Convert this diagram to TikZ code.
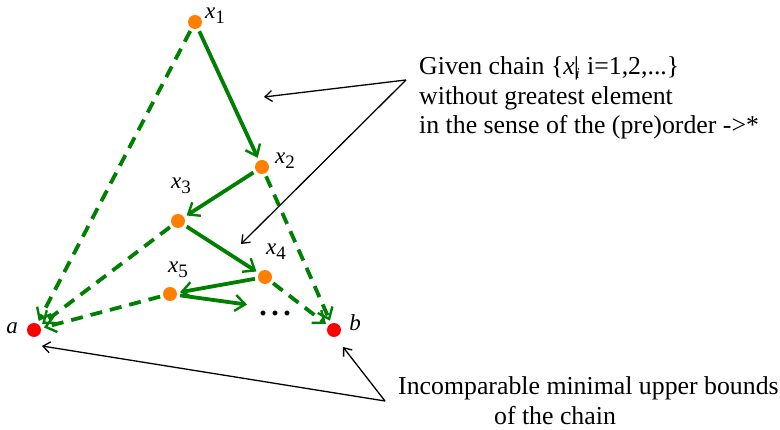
\documentclass[tikz,border=0pt]{standalone}
\usepackage{fontspec}
\setmainfont{Liberation Serif}
\usetikzlibrary{arrows.meta}
\definecolor{gr}{RGB}{0,128,0}
\definecolor{org}{RGB}{255,128,0}
\newcommand{\xlab}[1]{\textit{x}\raisebox{-5pt}{\fontsize{19}{19}\selectfont #1}}
\begin{document}
\begin{tikzpicture}[x=1pt,y=-1pt,
  dotn/.style={circle,fill=org,inner sep=0pt,minimum size=14pt},
  rdot/.style={circle,fill=red,inner sep=0pt,minimum size=14pt},
  lab/.style={font=\fontsize{23}{26}\selectfont,inner sep=0pt},
  solidarr/.style={draw=gr,line width=3.8pt,-{Straight Barb[length=10pt,width=16pt,line width=2.4pt]},shorten >=3pt,shorten <=3pt},
  dasharr/.style={solidarr,dash pattern=on 12pt off 8pt},
  pointer/.style={draw=black,line width=1.3pt,-{Straight Barb[length=7pt,width=11pt,line width=1.3pt]}},
  txt/.style={font=\fontsize{25.8}{30}\selectfont,inner sep=0pt}]
\useasboundingbox (0,0) rectangle (780,430);
\node[dotn] (x1) at (195,22) {};
\node[dotn] (x2) at (262,167) {};
\node[dotn] (x3) at (178,221) {};
\node[dotn] (x4) at (265,277) {};
\node[dotn] (x5) at (170,294) {};
\node[rdot] (a) at (34,330) {};
\node[rdot] (b) at (334,330) {};
\node[font=\fontsize{30}{30}\selectfont\bfseries,inner sep=0pt,anchor=base] (dots) at (275,316) {.\kern4.5pt.\kern4.5pt.};
\coordinate (dend) at (250,305);

\node[lab] (l1) at (215,16) {\xlab{1}};
\node[lab] (l2) at (285,161) {\xlab{2}};
\node[lab] (l3) at (181,186) {\xlab{3}};
\node[lab] (l4) at (276,252) {\xlab{4}};
\node[lab] (l5) at (178,270) {\xlab{5}};
\node[lab] (la) at (12,328) {\textit{a}};
\node[lab] (lb) at (355,323) {\textit{b}};

\draw[solidarr] (x1) -- (x2);
\draw[solidarr] (x2) -- (x3);
\draw[solidarr] (x3) -- (x4);
\draw[solidarr] (x4) -- (x5);
\draw[solidarr] (x5) -- (dend);
\draw[dasharr] (x1) -- (a);
\draw[dasharr] (x3) -- (a);
\draw[dasharr] (x5) -- (a);
\draw[dasharr] (x2) -- (b);
\draw[dasharr] (x4) -- (b);

\node[txt,anchor=base west] (t1) at (419,75) {Given chain \{\textit{x}\kern-1pt\textbar\kern-3.5pt\smash{\raisebox{-4pt}{\fontsize{15}{15}\selectfont\textit{i}}}\kern1pt\ i=1,2,...\}};
\node[txt,anchor=base west] (t2) at (419,105) {without greatest element};
\node[txt,anchor=base west] (t3) at (419,134) {in the sense of the (pre)order -{}>*};
\coordinate (s1) at (406,80);
\coordinate (e1) at (264,97);
\coordinate (e2) at (241,244);
\draw[pointer] (s1) -- (e1);
\draw[pointer] (s1) -- (e2);

\node[txt,anchor=base west] (t4) at (398,395) {Incomparable minimal upper bounds};
\node[txt,anchor=base] (t5) at (555,425) {of the chain};
\coordinate (s2) at (385,401);
\coordinate (e3) at (42,346);
\coordinate (e4) at (343,347);
\draw[pointer] (s2) -- (e3);
\draw[pointer] (s2) -- (e4);
\end{tikzpicture}
\end{document}
